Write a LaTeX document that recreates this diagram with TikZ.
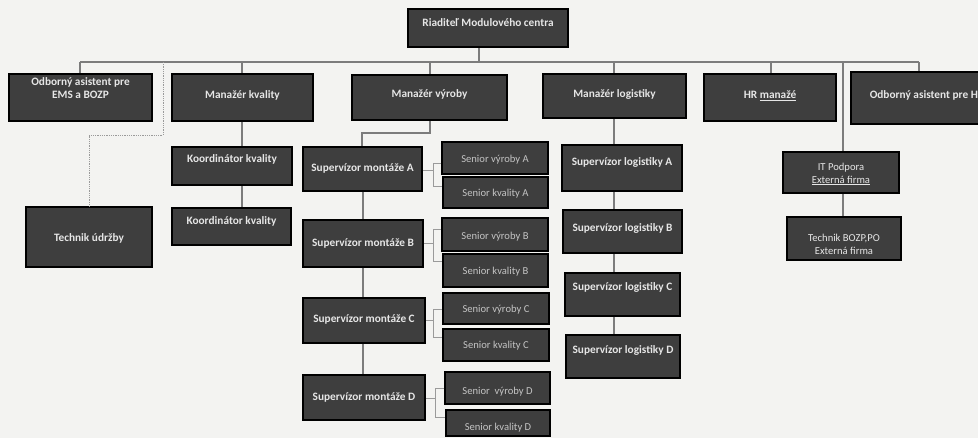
\documentclass[tikz,border=0pt]{standalone}
\usepackage{fontspec}
\setmainfont{Carlito}
\definecolor{bg}{HTML}{F3F3F1}
\definecolor{boxfill}{HTML}{3E3E3E}
\definecolor{boxtext}{HTML}{E6E6E6}
\definecolor{softtext}{HTML}{C4C4C4}
\definecolor{conn}{HTML}{7C7C7C}
\definecolor{thinconn}{HTML}{9A9A9A}
\newcommand\tx[2]{\raisebox{#1pt}[0pt][0pt]{#2}}
\newcommand\twol[2]{\begin{tabular}{@{}c@{}}#1\\#2\end{tabular}}
\newcommand\ob[7]{\node[orgbox,#6,minimum width={#4pt-#2pt},minimum height={#5pt-#3pt}] (#1) at ({(#2+#4)/2},{(#3+#5)/2}) {#7};}
\tikzset{
  orgbox/.style={draw=black,fill=boxfill,line width=1.8pt,text=boxtext,inner sep=0pt,
    font=\fontsize{11.3}{13}\selectfont\bfseries},
  soft/.style={text=softtext,font=\fontsize{10.6}{12.5}\selectfont},
  plain/.style={font=\fontsize{10.6}{12.5}\selectfont},
  link/.style={draw=conn,line width=1.6pt},
  blink/.style={draw=thinconn,line width=0.8pt},
  dlink/.style={draw=thinconn,line width=0.8pt,densely dotted}
}
\begin{document}
\begin{tikzpicture}[x=1pt,y=-1pt]
\useasboundingbox (0,0) rectangle (978,438);
\fill[bg] (0,0) rectangle (978,438);
\clip (0,0) rectangle (978,438);

\coordinate (busL) at (80,62);
\coordinate (busR) at (919,62);
\coordinate (dot1) at (163,135);
\coordinate (dot2) at (89,135);
\coordinate (mvj) at (430,133);

% boxes
\ob{dir}{408}{9}{568}{47}{}{\tx{1}{Riaditeľ Modulového centra}}
\ob{ems}{9}{74}{152}{121}{}{\tx{5}{\twol{Odborný asistent pre}{EMS a BOZP}}}
\ob{mk}{172}{74}{313}{121}{}{\tx{-1.5}{Manažér kvality}}
\ob{mv}{352}{75}{507}{120}{}{\tx{-0.5}{Manažér výroby}}
\ob{ml}{543}{74}{686}{118}{}{\tx{-2}{Manažér logistiky}}
\ob{hr}{704}{74}{836}{121}{}{\tx{-1.5}{HR \underline{manažé}}}
\ob{hra}{851}{72}{1003}{124}{}{\tx{-1}{Odborný asistent pre HR}}
\ob{tu}{26}{207}{152}{267}{}{\tx{-5}{Technik údržby}}
\ob{kk1}{172}{147}{292}{185}{}{\tx{3}{Koordinátor kvality}}
\ob{kk2}{172}{208}{291}{245}{}{\tx{1.5}{Koordinátor kvality}}
\ob{sA}{303}{147}{422}{191}{}{\tx{-3}{Supervízor montáže A}}
\ob{sB}{303}{220}{423}{267}{}{\tx{-3.5}{Supervízor montáže B}}
\ob{sC}{303}{298}{425}{343}{}{\tx{-2.5}{Supervízor montáže C}}
\ob{sD}{303}{375}{425}{420}{}{\tx{-3.5}{Supervízor montáže D}}
\ob{svA}{442}{142}{548}{174}{soft}{\tx{-5}{Senior výroby A}}
\ob{skA}{443}{177}{548}{208}{soft}{\tx{-4.5}{Senior kvality A}}
\ob{svB}{442}{218}{548}{251}{soft}{\tx{-5.5}{Senior výroby B}}
\ob{skB}{443}{254}{548}{287}{soft}{\tx{-4.5}{Senior kvality B}}
\ob{svC}{443}{293}{549}{324}{soft}{\tx{-4.5}{Senior výroby C}}
\ob{skC}{443}{329}{549}{361}{soft}{\tx{-4}{Senior kvality C}}
\ob{svD}{445}{372}{550}{404}{soft}{\tx{-7}{Senior\ \ výroby D}}
\ob{skD}{446}{410}{550}{436}{soft}{\tx{-8}{Senior kvality D}}
\ob{lA}{562}{145}{682}{191}{}{\tx{2}{Supervízor logistiky A}}
\ob{lB}{563}{210}{682}{253}{}{\tx{-0.5}{Supervízor logistiky B}}
\ob{lC}{565}{273}{680}{316}{}{\tx{3.5}{Supervízor logistiky C}}
\ob{lD}{566}{335}{680}{378}{}{\tx{2.5}{Supervízor logistiky D}}
\ob{it}{783}{152}{899}{193}{plain}{\tx{-4.5}{\twol{IT Podpora}{\underline{Externá firma}}}}
\ob{tb}{787}{217}{901}{260}{plain}{\tx{-9.5}{\twol{Technik BOZP,PO}{Externá firma}}}

% main tree connectors
\draw[link] (busL) -- (busR);
\draw[link] (dir.south -| 479,0) -- (479,62);
\draw[link] (busL) -- (ems.north -| busL);
\draw[link] (242,62) -- (mk.north -| 242,0);
\draw[link] (430,62) -- (mv.north -| 430,0);
\draw[link] (614,62) -- (ml.north -| 614,0);
\draw[link] (771,62) -- (hr.north -| 771,0);
\draw[link] (busR) -- (hra.north -| busR);
\draw[link] (843,62) -- (it.north -| 843,0);
\draw[link] (it.south -| 843,0) -- (tb.north -| 843,0);
\draw[dlink] (163,62) -- (dot1) -- (dot2) -- (tu.north -| dot2);
\draw[link] (mk.south -| 242,0) -- (kk1.north -| 242,0);
\draw[link] (kk1.south -| 242,0) -- (kk2.north -| 242,0);
\draw[link] (mv.south -| mvj) -- (mvj) -- (362,133) -- (sA.north -| 362,0);
\draw[link] (sA.south -| 363,0) -- (sB.north -| 363,0);
\draw[link] (sB.south -| 363,0) -- (sC.north -| 363,0);
\draw[link] (sC.south -| 363,0) -- (sD.north -| 363,0);
\draw[link] (ml.south -| 614,0) -- (lA.north -| 614,0);
\draw[link] (lA.south -| 614,0) -- (lB.north -| 614,0);
\draw[link] (lB.south -| 614,0) -- (lC.north -| 614,0);
\draw[link] (lC.south -| 614,0) -- (lD.north -| 614,0);

% brackets to seniors
\draw[blink] (sA.east |- 0,170) -- (433,170);
\draw[blink] (svA.west |- 0,163) -- (433,163) -- (433,186) -- (skA.west |- 0,186);
\draw[blink] (sB.east |- 0,243) -- (433,243);
\draw[blink] (svB.west |- 0,229) -- (433,229) -- (433,261) -- (skB.west |- 0,261);
\draw[blink] (sC.east |- 0,320) -- (433,320);
\draw[blink] (svC.west |- 0,309) -- (433,309) -- (433,337) -- (skC.west |- 0,337);
\draw[blink] (sD.east |- 0,398) -- (435,398);
\draw[blink] (svD.west |- 0,388) -- (435,388) -- (435,417) -- (skD.west |- 0,417);
\end{tikzpicture}
\end{document}
